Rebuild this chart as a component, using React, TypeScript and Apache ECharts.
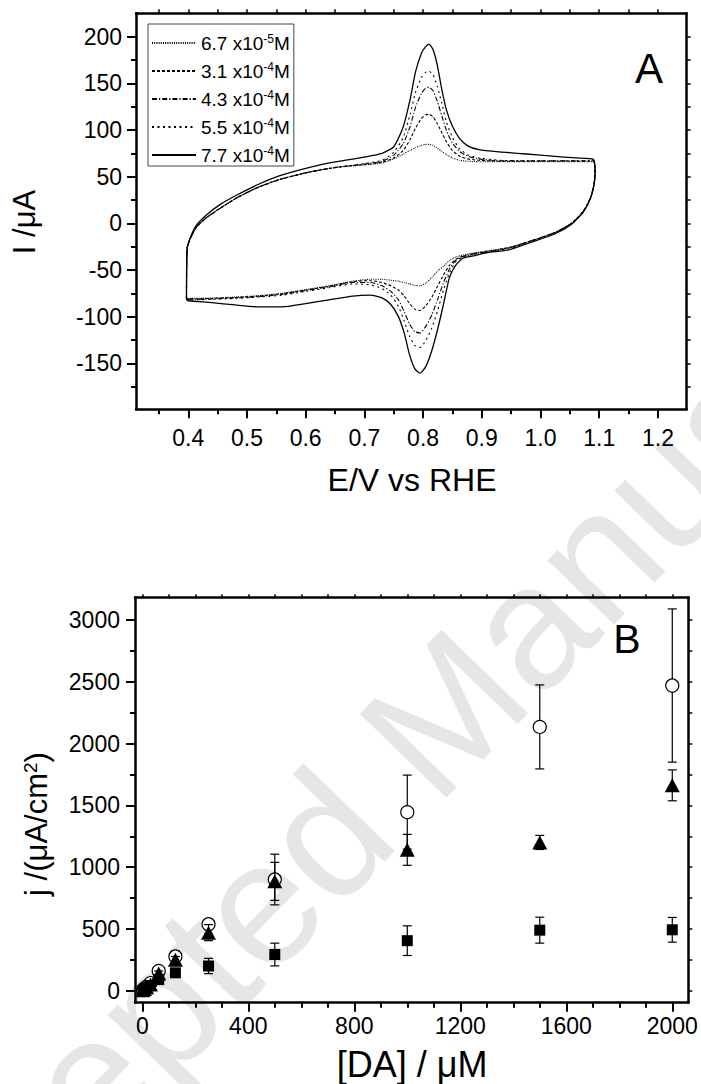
import React, { useEffect, useRef } from 'react';
import * as echarts from 'echarts';

const FONT = '"Liberation Sans", Arial, Helvetica, sans-serif';

// ---------------- Panel A: cyclic voltammograms ----------------
const concMant = ['6.7', '3.1', '4.3', '5.5', '7.7'];
const concExp = ['-5', '-4', '-4', '-4', '-4'];
const dashTypes: any[] = [[1, 1.2], [3, 2], [5, 2, 1.2, 2], [2, 3.5], 'solid'];

// potentials of the forward (anodic) sweep, V
const potAnodic = [0.397, 0.398, 0.403, 0.414, 0.431, 0.454, 0.482, 0.517, 0.556, 0.607,
  0.653, 0.700, 0.730, 0.750, 0.766, 0.778, 0.787, 0.797, 0.804, 0.810,
  0.817, 0.824, 0.832, 0.840, 0.850, 0.862, 0.876, 0.895, 0.930, 0.970,
  1.020, 1.060, 1.090];
// potentials of the reverse (cathodic) sweep, V
const potCathodic = [1.093, 1.091, 1.085, 1.073, 1.053, 1.024, 0.983, 0.946, 0.910, 0.885,
  0.868, 0.856, 0.845, 0.835, 0.825, 0.815, 0.805, 0.795, 0.786, 0.777,
  0.768, 0.758, 0.745, 0.730, 0.710, 0.680, 0.640, 0.600, 0.560, 0.520,
  0.480, 0.440, 0.400, 0.397];

const anodic67e5 = [-80, -27, -17, -4, 6, 16, 27, 38, 47, 55, 60, 62.5, 64.5, 69, 74, 78, 81, 83.5, 84.5, 84.6,
  83.5, 80.5, 77, 73.5, 70, 67.5, 66.5, 66, 66, 66, 66, 66, 66];
const anodic31e4 = [-80, -27, -17, -4, 6, 16, 27, 38, 47, 55, 60, 63, 65.5, 70, 78, 90, 102, 112, 116, 116.8,
  114, 107, 97, 87, 78, 72, 69, 67.5, 66.5, 66.5, 66.5, 66.5, 66.5];
const anodic43e4 = [-80, -27, -17, -4, 6, 16, 27, 38, 47, 55, 60, 63.5, 66.5, 73, 85, 104, 124, 139, 144.5, 145.7,
  142, 131, 115, 99, 86, 77, 72, 69, 67, 67, 67, 67, 67];
const anodic55e4 = [-80, -27, -17, -4, 6, 16, 27, 38, 47, 55, 60, 64, 67.5, 76, 92, 117, 140, 156, 161.5, 163,
  159, 147, 128, 108, 92, 80, 73.5, 70, 67.5, 67, 67, 67, 67];
const anodic77e4 = [-82, -28, -16, -2, 9, 20, 30, 41, 51, 60, 66, 71, 75, 82, 103, 133, 162, 182, 189, 192,
  186, 170, 143, 121, 104, 91, 83, 79, 76.5, 74.5, 72, 70, 68.5];

const cathodic67e5 = [55, 41, 27, 13, 0, -10, -19, -26, -29.5, -32, -34, -36, -40, -46, -51, -58, -64, -67, -66.5, -65,
  -63.5, -62, -61, -60, -60, -62, -67, -71, -75, -77.5, -79, -80, -80.5, -80];
const cathodic31e4 = [55, 41, 27, 13, 0, -10, -19, -26, -30, -32.5, -35, -38.5, -45, -55, -67, -79, -88, -93.5, -92, -86,
  -78, -71.5, -67, -63.5, -61.5, -62.5, -67.5, -71.5, -75.5, -78, -79.5, -80.5, -81, -80];
const cathodic43e4 = [55, 41, 27, 13, 0, -10, -19, -26.5, -30.5, -33, -35.5, -39.5, -49, -63, -81, -98, -110, -117.5, -116, -108,
  -95, -82, -73, -67, -63.5, -63.5, -68, -72, -76, -78.5, -80, -81, -81.5, -80];
const cathodic55e4 = [55, 41, 27, 13, 0, -10.5, -19.5, -27, -31, -33.5, -36, -41, -53, -71, -93, -112, -125, -133, -131, -121,
  -105, -89, -77, -70, -66, -65, -69, -73, -77, -79, -80.5, -81.5, -82, -80];
const cathodic77e4 = [55, 41, 26.5, 12, -1, -11.5, -20.5, -28.5, -31.5, -35, -37.5, -44.6, -58, -86, -113, -136, -153, -160.5, -156, -141,
  -118, -100, -87, -80, -77, -78, -82, -86, -89.5, -89.5, -87.5, -85, -83, -82];

const anodicSets = [anodic67e5, anodic31e4, anodic43e4, anodic55e4, anodic77e4];
const cathodicSets = [cathodic67e5, cathodic31e4, cathodic43e4, cathodic55e4, cathodic77e4];

const aXMajor = [0.4, 0.5, 0.6, 0.7, 0.8, 0.9, 1.0, 1.1, 1.2];
const aXMinor = [0.35, 0.45, 0.55, 0.65, 0.75, 0.85, 0.95, 1.05, 1.15];
const aYMajor = [-150, -100, -50, 0, 50, 100, 150, 200];
const aYMinor = [-175, -125, -75, -25, 25, 75, 125, 175];

// ---------------- Panel B: current density vs [DA] ----------------
const daConc = [2, 8, 16, 31, 62, 125, 250, 500, 1000, 1500, 2000];
const openCircle = [5, 18, 32, 62, 160, 277, 538, 900, 1445, 2135, 2470];
const openCircleErr = [8, 8, 10, 12, 25, 45, 30, 205, 300, 340, 620];
const filledTriangle = [3, 14, 28, 50, 140, 250, 470, 885, 1140, 1200, 1662];
const filledTriangleErr = [5, 6, 6, 12, 20, 27, 65, 154, 125, 57, 125];
const filledSquare = [2, 10, 22, 42, 90, 145, 200, 293, 405, 490, 493];
const filledSquareErr = [3, 5, 8, 10, 15, 20, 62, 92, 120, 105, 100];

const bXMajor = [0, 400, 800, 1200, 1600, 2000];
const bXMinor = [100, 200, 300, 500, 600, 700, 900, 1000, 1100, 1300, 1400, 1500, 1700, 1800, 1900];
const bYMajor = [0, 500, 1000, 1500, 2000, 2500, 3000];
const bYMinor = [250, 750, 1250, 1750, 2250, 2750];

const A_X = [0.311, 1.249];
const A_Y = [-199.3, 225];
const B_X = [-27.5, 2060.5];
const B_Y = [-97, 3184];

const lineAxis = { show: true, onZero: false, lineStyle: { color: '#000', width: 2.5 } };
const noLine = { show: false, onZero: false };

function ax(o: any) {
  const base: any = {
    type: 'value',
    splitLine: { show: false },
    axisLine: noLine,
    axisLabel: { show: false },
    axisTick: { show: false },
  };
  return Object.assign(base, o);
}
function ticks(values: number[], len: number, w = 2) {
  return { show: true, inside: false, customValues: values, length: len, lineStyle: { color: '#000', width: w } };
}
function labels(values: number[], margin: number, fmt: (v: number) => string) {
  return { show: true, customValues: values, margin, fontSize: 23, color: '#000', fontFamily: FONT, formatter: fmt };
}

function errorSeries(xi: number, yi: number, vals: number[], errs: number[], z: number) {
  return {
    type: 'custom',
    xAxisIndex: xi,
    yAxisIndex: yi,
    z,
    silent: true,
    encode: { x: 0, y: 1 },
    data: daConc.map((c, i) => [c, vals[i], errs[i]]),
    renderItem: (params: any, api: any) => {
      const x = api.value(0);
      const y = api.value(1);
      const e = api.value(2);
      const p1 = api.coord([x, y + e]);
      const p2 = api.coord([x, y - e]);
      const w = 4.5;
      const st = { stroke: '#000', lineWidth: 1.2, fill: null };
      return {
        type: 'group',
        children: [
          { type: 'line', shape: { x1: p1[0], y1: p1[1], x2: p2[0], y2: p2[1] }, style: st },
          { type: 'line', shape: { x1: p1[0] - w, y1: p1[1], x2: p1[0] + w, y2: p1[1] }, style: st },
          { type: 'line', shape: { x1: p2[0] - w, y1: p2[1], x2: p2[0] + w, y2: p2[1] }, style: st },
        ],
      };
    },
  };
}

export default function App() {
  const ref = useRef<HTMLDivElement>(null);
  useEffect(() => {
    document.body.style.margin = '0';
    const chart = echarts.init(ref.current!, null, { renderer: 'svg' });

    const seriesNames = concMant.map((m, i) => `${m} x10${concExp[i]}M`);
    const cvSeries = seriesNames.map((name, k) => ({
      name,
      type: 'line',
      xAxisIndex: 0,
      yAxisIndex: 0,
      symbol: 'none',
      smooth: 0.2,
      silent: true,
      z: 3,
      itemStyle: { color: '#000', opacity: 0 },
      lineStyle: { color: '#000', width: k === 4 ? 1.3 : 1.1, type: dashTypes[k], opacity: 1 },
      data: potAnodic.map((v, i) => [v, anodicSets[k][i]])
        .concat(potCathodic.map((v, i) => [v, cathodicSets[k][i]])),
    }));

    const option: any = {
      animation: false,
      backgroundColor: '#fff',
      grid: [
        { left: 136, top: 13.3, width: 550.7, height: 396 },
        { left: 135, top: 597.3, width: 553.3, height: 405.4 },
      ],
      legend: {
        data: seriesNames,
        orient: 'vertical',
        left: 148,
        top: 24,
        itemWidth: 44,
        itemHeight: 12,
        itemGap: 8,
        padding: [9, 4, 1, 3],
        borderColor: '#444',
        borderWidth: 1,
        backgroundColor: '#fff',
        selectedMode: false,
        itemStyle: { opacity: 0 },
        formatter: (name: string) => {
          const i = seriesNames.indexOf(name);
          return `${concMant[i]} x10{sup|${concExp[i]}}M`;
        },
        textStyle: {
          fontSize: 19,
          fontFamily: FONT,
          color: '#000',
          lineHeight: 20,
          rich: { sup: { fontSize: 12, fontFamily: FONT, color: '#000', verticalAlign: 'top', lineHeight: 12 } },
        },
      },
      xAxis: [
        // panel A
        ax({ gridIndex: 0, min: A_X[0], max: A_X[1], position: 'bottom', axisLine: lineAxis,
          axisTick: ticks(aXMajor, 9), axisLabel: labels(aXMajor, 17, (v) => v.toFixed(1)) }),
        ax({ gridIndex: 0, min: A_X[0], max: A_X[1], position: 'bottom', axisTick: ticks(aXMinor, 5) }),
        ax({ gridIndex: 0, min: A_X[0], max: A_X[1], position: 'top', axisLine: lineAxis,
          axisTick: ticks(aXMajor.concat(aXMinor), 4, 1.5) }),
        // panel B
        ax({ gridIndex: 1, min: B_X[0], max: B_X[1], position: 'bottom', axisLine: lineAxis,
          axisTick: ticks(bXMajor, 9), axisLabel: labels(bXMajor, 12, (v) => String(Math.round(v))) }),
        ax({ gridIndex: 1, min: B_X[0], max: B_X[1], position: 'bottom', axisTick: ticks(bXMinor, 5) }),
        ax({ gridIndex: 1, min: B_X[0], max: B_X[1], position: 'top', axisLine: lineAxis,
          axisTick: ticks(bXMajor.concat(bXMinor), 3, 1.5) }),
      ],
      yAxis: [
        // panel A
        ax({ gridIndex: 0, min: A_Y[0], max: A_Y[1], position: 'left', axisLine: lineAxis,
          axisTick: ticks(aYMajor, 9), axisLabel: labels(aYMajor, 14, (v) => String(Math.round(v))) }),
        ax({ gridIndex: 0, min: A_Y[0], max: A_Y[1], position: 'left', axisTick: ticks(aYMinor, 5) }),
        ax({ gridIndex: 0, min: A_Y[0], max: A_Y[1], position: 'right', axisLine: lineAxis,
          axisTick: ticks(aYMajor.concat(aYMinor), 4, 1.5) }),
        // panel B
        ax({ gridIndex: 1, min: B_Y[0], max: B_Y[1], position: 'left', axisLine: lineAxis,
          axisTick: ticks(bYMajor, 9), axisLabel: labels(bYMajor, 15, (v) => String(Math.round(v))) }),
        ax({ gridIndex: 1, min: B_Y[0], max: B_Y[1], position: 'left', axisTick: ticks(bYMinor, 5) }),
        ax({ gridIndex: 1, min: B_Y[0], max: B_Y[1], position: 'right', axisLine: lineAxis,
          axisTick: ticks(bYMajor.concat(bYMinor), 4, 1.5) }),
      ],
      graphic: [
        {
          type: 'text', x: 420, y: 738, rotation: (46 * Math.PI) / 180, z: -10, silent: true,
          style: { text: 'Accepted Manuscript', fontSize: 175, fontFamily: FONT, fill: '#e6e6e6', align: 'center', verticalAlign: 'middle' },
        },
        { type: 'text', x: 24, y: 222, rotation: Math.PI / 2, style: { text: 'I /μA', fontSize: 31, fontFamily: FONT, fill: '#000', align: 'center', verticalAlign: 'middle' } },
        { type: 'text', x: 412, y: 480, style: { text: 'E/V vs RHE', fontSize: 32, fontFamily: FONT, fill: '#000', align: 'center', verticalAlign: 'middle' } },
        { type: 'text', x: 649, y: 68, style: { text: 'A', fontSize: 42, fontFamily: FONT, fill: '#000', align: 'center', verticalAlign: 'middle' } },
        {
          type: 'text', x: 36, y: 824, rotation: Math.PI / 2,
          style: {
            text: 'j /(μA/cm{sup|2})', fontSize: 31, fontFamily: FONT, fill: '#000', align: 'center', verticalAlign: 'middle',
            rich: { sup: { fontSize: 19, fontFamily: FONT, fill: '#000', verticalAlign: 'top', lineHeight: 19 } },
          },
        },
        { type: 'text', x: 412, y: 1064, style: { text: '[DA] / μM', fontSize: 36, fontFamily: FONT, fill: '#000', align: 'center', verticalAlign: 'middle' } },
        { type: 'text', x: 627, y: 639, style: { text: 'B', fontSize: 41, fontFamily: FONT, fill: '#000', align: 'center', verticalAlign: 'middle' } },
      ],
      series: [
        ...cvSeries,
        errorSeries(3, 3, openCircle, openCircleErr, 4),
        {
          type: 'scatter', xAxisIndex: 3, yAxisIndex: 3, z: 5, silent: true,
          symbol: 'circle', symbolSize: 13,
          itemStyle: { color: '#fff', borderColor: '#000', borderWidth: 1.2, opacity: 1 },
          data: daConc.map((c, i) => [c, openCircle[i]]),
        },
        errorSeries(3, 3, filledTriangle, filledTriangleErr, 6),
        {
          type: 'scatter', xAxisIndex: 3, yAxisIndex: 3, z: 7, silent: true,
          symbol: 'triangle', symbolSize: [15, 14],
          itemStyle: { color: '#000', opacity: 1 },
          data: daConc.map((c, i) => [c, filledTriangle[i]]),
        },
        errorSeries(3, 3, filledSquare, filledSquareErr, 8),
        {
          type: 'scatter', xAxisIndex: 3, yAxisIndex: 3, z: 9, silent: true,
          symbol: 'rect', symbolSize: 11,
          itemStyle: { color: '#000', opacity: 1 },
          data: daConc.map((c, i) => [c, filledSquare[i]]),
        },
      ],
    };
    chart.setOption(option);
    return () => chart.dispose();
  }, []);
  return <div ref={ref} style={{ width: 701, height: 1084 }} />;
}
